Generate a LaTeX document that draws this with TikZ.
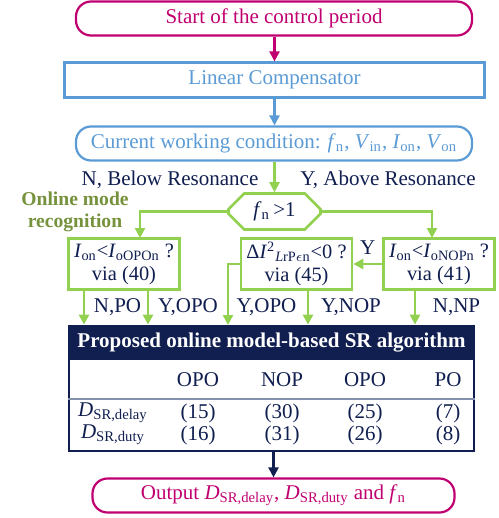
\documentclass[tikz,border=0pt]{standalone}
\usepackage{fontspec}
\setmainfont{Liberation Serif}
\usetikzlibrary{arrows.meta, positioning, shapes.misc}
\definecolor{srmagenta}{RGB}{192, 0, 112}
\definecolor{srblue}{RGB}{91, 155, 213}
\definecolor{srgreen}{RGB}{146, 208, 80}
\definecolor{srolive}{RGB}{118, 146, 60}
\definecolor{srnavy}{RGB}{16, 30, 80}
\definecolor{srgray}{RGB}{132, 145, 170}
\newcommand{\sbs}[1]{\textsubscript{#1}}

\begin{document}
\begin{tikzpicture}[
        x=0.5pt, y=-0.5pt,
        every node/.style={font=\fontsize{10.5}{12}\selectfont, inner sep=0pt, text=srnavy},
        pill/.style={draw, line width=1.1pt, rounded corners=7.5pt, minimum width=198pt, minimum height=17pt},
        rect/.style={draw, line width=1.1pt, minimum width=210pt, minimum height=17.5pt},
        check/.style={draw=srgreen, line width=1.3pt, chamfered rectangle, chamfered rectangle xsep=5pt, minimum width=46pt, minimum height=18pt},
        gbox/.style={draw=srgreen, line width=1.3pt, minimum width=55.5pt, minimum height=25.5pt, align=center, font=\fontsize{10.2}{11.5}\selectfont},
        lbl/.style={text=srnavy},
        cell/.style={text=srnavy},
        arr/.style={-{Triangle[length=5pt, width=5pt]}, line width=1.1pt},
        garr/.style={arr, srgreen, line width=1.3pt}
      ]
        \useasboundingbox (0,0) rectangle (498,518);
        % main chain
        \node[pill, draw=srmagenta, text=srmagenta] (start) at (274,18.5) {Start of the control period};
        \node[rect, draw=srblue, text=srblue] (comp) at (274.5,80) {Linear Compensator};
        \node[pill, draw=srblue, text=srblue] (cond) at (274,143.5) {Current working condition: \textit{f}\sbs{n}, \textit{V}\sbs{in}, \textit{I}\sbs{on}, \textit{V}\sbs{on}};
        \node[check] (res) at (274.5,211.5) {\textit{f}\sbs{n}\,>1};
        \node[lbl] (below) at (170,180) {N, Below Resonance};
        \node[lbl] (above) at (388,180) {Y, Above Resonance};
        \node[text=srolive, font=\fontsize{9.8}{11}\selectfont\bfseries, align=center] (mode) at (75,212) {Online mode\\recognition};
        % mode checks
        \node[gbox] (opo) at (124,264) {\textit{I}\sbs{on}<\textit{I}\sbs{oOPOn} ?\\via (40)};
        \node[gbox] (lrp) at (296.5,264) {Δ\textit{I}\textsuperscript{2}\sbs{\textit{L}rP$\epsilon$n}<0 ?\\via (45)};
        \node[gbox] (nop) at (439,264) {\textit{I}\sbs{on}<\textit{I}\sbs{oNOPn} ?\\via (41)};
        \node[lbl] (npo) at (117.5,307) {N,PO};
        \node[lbl] (yopo) at (188,307) {Y,OPO};
        \node[lbl] (yopob) at (266.5,307) {Y,OPO};
        \node[lbl] (ynop) at (351,307) {Y,NOP};
        \node[lbl] (nnp) at (456.5,307) {N,NP};
        % SR table
        \node[fill=srnavy, text=white, minimum width=203.5pt, minimum height=17.5pt, font=\fontsize{10.5}{12}\selectfont\bfseries] (head) at (271.5,342.5) {Proposed online model-based SR algorithm};
        \node[draw=srnavy, line width=1.4pt, minimum width=202.5pt, minimum height=62.5pt] (tbl) at (271.5,388.5) {};
        \coordinate (sep) at (0,399);
        \draw[srgray, line width=1.3pt] (tbl.west |- sep) -- (tbl.east |- sep);
        \node[cell] (rdelay) at (113,413) {\textit{D}\sbs{SR,delay}};
        \node[cell] (rduty) at (113,435) {\textit{D}\sbs{SR,duty}};
        \foreach \x/\mode/\dl/\dt in {198/OPO/15/16, 282/NOP/30/31, 365/OPO/25/26, 448/PO/7/8} {
          \node[cell] (col\x) at (\x,380) {\mode};
          \node[cell] (dl\x) at (\x,413) {(\dl)};
          \node[cell] (dt\x) at (\x,435) {(\dt)};
        }
        \node[pill, draw=srmagenta, text=srmagenta, minimum width=181pt] (out) at (273.5,495.5) {Output \textit{D}\sbs{SR,delay}, \textit{D}\sbs{SR,duty} and \textit{f}\sbs{n}};
        % connectors
        \coordinate (ltop) at (140,238);
        \coordinate (rtop) at (432,238);
        \coordinate (oleft) at (228,325);
        \draw[arr, srmagenta] (start.south -| comp.north) -- (comp.north);
        \draw[arr, srblue] (comp.south) -- (comp.south |- cond.north);
        \draw[garr] (cond.south -| res.north) -- (res.north);
        \draw[garr] (res.west) -| (ltop);
        \draw[garr] (res.east) -| (rtop);
        \draw[garr] (nop.west) -- node[above=4pt, lbl] (yes) {Y} (lrp.east);
        \draw[garr] (lrp.west) -| (oleft);
        \foreach \x/\src in {84/opo, 148/opo, 308/lrp, 415/nop} {
          \coordinate (tap) at (\x,0);
          \draw[garr] (\src.south -| tap) -- (tbl.north -| tap);
        }
        \draw[arr, srnavy] (out.north |- tbl.south) -- (out.north);
      \end{tikzpicture}
\end{document}
